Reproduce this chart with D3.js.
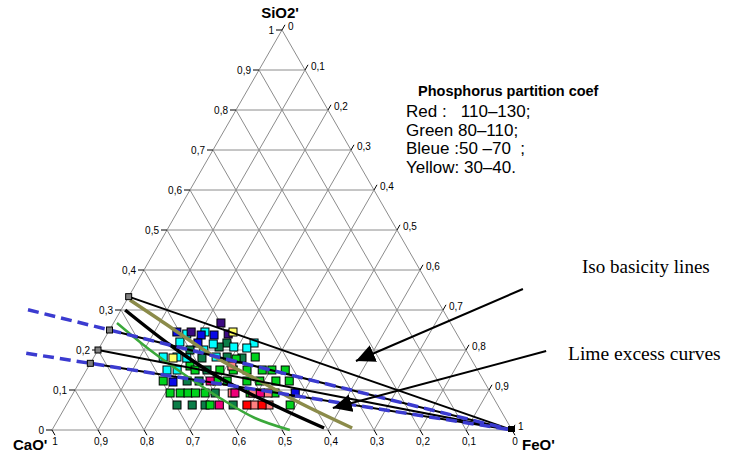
<!DOCTYPE html>
<html lang="en"><head>
<meta charset="utf-8">
<title>Ternary CaO'-SiO2'-FeO'</title>
<script src="https://cdn.jsdelivr.net/npm/d3@7"></script>
<style>
body { margin: 0; background: #fff; }
text { font-family: Arial, "Liberation Sans", sans-serif; }
</style>
</head>
<body>
<script>

var width = 737;
var height = 456;

// every composition is [CaO', SiO2'] ; FeO' = 1 - CaO' - SiO2'
var tickValues = d3.range(0, 11).map(function(i){ return i / 10; });

// iso basicity lines (CaO'/SiO2') drawn from the FeO' corner
var isoBasicity = [2, 3, 4, 5];
// dashed ones run past the CaO'-SiO2' side (t = 1 is the side)
var dashedBasicity = [3, 5];
var dashedReach = [1.2025, 1.152];

// lime excess curves
var oliveCurve = [[0.668,0.325],[0.628,0.275],[0.554,0.1825],[0.490,0.125],[0.427,0.0675],[0.345,0.005]];
var blackCurve = [[0.691,0.300],[0.637,0.2125],[0.570,0.130],[0.477,0.055],[0.406,0.005]];
var greenCurve = [[0.725,0.2675],[0.687,0.200],[0.642,0.1375],[0.595,0.080],[0.544,0.030],[0.483,0.000]];

// slag samples, by colour
var indigoPts = [[0.499,0.2675],[0.497,0.240],[0.575,0.245]];
var bluePts = [[0.606,0.245],[0.557,0.2375],[0.529,0.2375],[0.574,0.2175],[0.677,0.120],[0.425,0.0925]];
var cyanPts = [[0.587,0.240],[0.545,0.245],[0.612,0.220],[0.542,0.215],[0.452,0.2175],[0.501,0.2075],
  [0.474,0.205],[0.570,0.200],[0.667,0.1825],[0.637,0.1825],[0.617,0.180],[0.552,0.1825],[0.675,0.150],[0.653,0.150]];
var darkGreenPts = [[0.511,0.2175],[0.533,0.2075],[0.600,0.200],[0.584,0.180],[0.528,0.1825],[0.497,0.180],
  [0.588,0.150],[0.645,0.1225],[0.619,0.1225],[0.599,0.0925],[0.697,0.0625],[0.664,0.0625],[0.636,0.0625],[0.575,0.0625]];
var greenPts = [[0.467,0.1825],[0.511,0.1775],[0.620,0.160],[0.614,0.150],[0.560,0.150],[0.531,0.150],[0.501,0.150],
  [0.468,0.150],[0.447,0.150],[0.418,0.150],[0.697,0.1225],[0.580,0.1225],[0.558,0.1225],[0.515,0.1225],[0.487,0.1225],
  [0.452,0.1225],[0.423,0.1225],[0.697,0.0925],[0.675,0.0925],[0.658,0.0925],[0.642,0.0925],[0.621,0.0925],
  [0.523,0.0925],[0.469,0.0925],[0.625,0.0625],[0.451,0.0625]];
var magentaPts = [[0.595,0.1225],[0.556,0.0925],[0.501,0.0925],[0.605,0.0625]];
var salmonPts = [[0.529,0.160],[0.562,0.0925],[0.517,0.0925],[0.484,0.0925],[0.529,0.0625],[0.497,0.0625]];
var redPts = [[0.545,0.0625],[0.512,0.0625]];
var yellowPts = [[0.484,0.245],[0.647,0.180]];

var legendTitle = "Phosphorus partition coef";
var legendLines = ["Red :   110\u2013130;", "Green 80\u2013110;", "Bleue :50 \u201370  ;", "Yellow: 30\u201340."];

// annotation arrows: [start, tip]
var arrows = [
  {label: "Iso basicity lines", from: [-0.200, 0.3525], to: [0.253, 0.1725]},
  {label: "Lime excess curves", from: [-0.173, 0.1975], to: [0.362, 0.055]}
];

var fmt = d3.formatLocale({decimal: ",", thousands: " ", grouping: [3], currency: ["", ""]}).format("~g");

var xScale = d3.scaleLinear().domain([0, 1]).range([52, 512]);
var yScale = d3.scaleLinear().domain([0, 1]).range([430, 30]);

function px(c, s) {
  var f = 1 - c - s;
  return [xScale(f + s / 2), yScale(s)];
}

var svg = d3.select("body").append("svg")
  .attr("width", width)
  .attr("height", height);

svg.append("defs").append("marker")
  .attr("id", "head")
  .attr("viewBox", "0 0 19 18")
  .attr("refX", 19).attr("refY", 9)
  .attr("markerWidth", 19).attr("markerHeight", 18)
  .attr("markerUnits", "userSpaceOnUse")
  .attr("orient", "auto")
  .append("path").attr("d", "M0,0L19,9L0,18Z").attr("fill", "#000");

// grid
var grid = svg.append("g").attr("stroke", "#8c8c8c").attr("stroke-width", 1).attr("fill", "none");
tickValues.slice(1, 10).forEach(function(v){
  var segs = [
    [px(1 - v, v), px(0, v)],          // SiO2' constant
    [px(v, 0), px(v, 1 - v)],          // CaO' constant
    [px(1 - v, 0), px(0, 1 - v)]       // FeO' constant
  ];
  segs.forEach(function(s){
    grid.append("line")
      .attr("x1", s[0][0]).attr("y1", s[0][1])
      .attr("x2", s[1][0]).attr("y2", s[1][1]);
  });
});
grid.append("path")
  .attr("d", d3.line()([px(1, 0), px(0, 1), px(0, 0)]) + "Z");

// ticks and labels
var axes = svg.append("g").attr("font-size", 10).attr("fill", "#000");
tickValues.forEach(function(v){
  // SiO2' on the left side
  var p = px(1 - v, v);
  axes.append("line").attr("x1", p[0]).attr("y1", p[1]).attr("x2", p[0] - 6).attr("y2", p[1]).attr("stroke", "#000");
  axes.append("text").attr("x", p[0] - 8).attr("y", p[1]).attr("dy", "0.35em").attr("text-anchor", "end").text(fmt(v));
  // FeO' on the right side
  p = px(0, 1 - v);
  axes.append("line").attr("x1", p[0]).attr("y1", p[1]).attr("x2", p[0] + 3).attr("y2", p[1] - 5.2).attr("stroke", "#000");
  axes.append("text").attr("x", p[0] + 6).attr("y", p[1] - 4).attr("dy", "0.35em").text(fmt(v));
  // CaO' on the bottom
  p = px(v, 0);
  axes.append("line").attr("x1", p[0]).attr("y1", p[1]).attr("x2", p[0] + 3).attr("y2", p[1] + 5.2).attr("stroke", "#000");
  axes.append("text").attr("x", p[0] + 3).attr("y", p[1] + 15).attr("text-anchor", "middle").text(fmt(v));
});

var titles = svg.append("g").attr("font-size", 15).attr("font-weight", "bold");
var apexSi = px(0, 1), apexCa = px(1, 0), apexFe = px(0, 0);
titles.append("text").attr("x", apexSi[0] - 2).attr("y", apexSi[1] - 12).attr("text-anchor", "middle").text("SiO2'");
titles.append("text").attr("x", apexCa[0] - 39).attr("y", apexCa[1] + 20).text("CaO'");
titles.append("text").attr("x", apexFe[0] + 10).attr("y", apexFe[1] + 20).text("FeO'");

// samples
var groups = [
  {pts: darkGreenPts, color: "#0b7d48"},
  {pts: greenPts, color: "#00d21c"},
  {pts: cyanPts, color: "#00ffff"},
  {pts: bluePts, color: "#0a0ae6"},
  {pts: indigoPts, color: "#3c0a82"},
  {pts: salmonPts, color: "#ff8080"},
  {pts: magentaPts, color: "#ee0078"},
  {pts: redPts, color: "#ff0000"},
  {pts: yellowPts, color: "#ffff66"}
];
var sq = 8;
groups.forEach(function(g){
  svg.append("g").selectAll("rect")
    .data(g.pts).enter().append("rect")
    .attr("x", function(d){ return px(d[0], d[1])[0] - sq / 2; })
    .attr("y", function(d){ return px(d[0], d[1])[1] - sq / 2; })
    .attr("width", sq).attr("height", sq)
    .attr("fill", g.color)
    .attr("stroke", "#000").attr("stroke-width", 1);
});

// curves
var curve = d3.line()
  .x(function(d){ return px(d[0], d[1])[0]; })
  .y(function(d){ return px(d[0], d[1])[1]; })
  .curve(d3.curveCatmullRom);

svg.append("path").attr("d", curve(greenCurve)).attr("fill", "none").attr("stroke", "#3aa83a").attr("stroke-width", 2.5);
svg.append("path").attr("d", curve(oliveCurve)).attr("fill", "none").attr("stroke", "#8b8b4a").attr("stroke-width", 3.5);
svg.append("path").attr("d", curve(blackCurve)).attr("fill", "none").attr("stroke", "#000").attr("stroke-width", 3.5);

// iso basicity lines
function sidePoint(b, t) {
  return [t * b / (1 + b), t / (1 + b)];
}
isoBasicity.forEach(function(b){
  var p = px.apply(null, sidePoint(b, 1));
  svg.append("line")
    .attr("x1", p[0]).attr("y1", p[1]).attr("x2", apexFe[0]).attr("y2", apexFe[1])
    .attr("stroke", "#000").attr("stroke-width", 2);
});
dashedBasicity.forEach(function(b, i){
  var p = px.apply(null, sidePoint(b, dashedReach[i]));
  svg.append("line")
    .attr("x1", p[0]).attr("y1", p[1]).attr("x2", apexFe[0]).attr("y2", apexFe[1])
    .attr("stroke", "#3b3bd0").attr("stroke-width", 3.5)
    .attr("stroke-dasharray", "11,6");
});
isoBasicity.forEach(function(b){
  var p = px.apply(null, sidePoint(b, 1));
  svg.append("rect").attr("x", p[0] - 3).attr("y", p[1] - 3).attr("width", 6).attr("height", 6)
    .attr("fill", "#808080").attr("stroke", "#000").attr("stroke-width", 1);
});
svg.append("rect").attr("x", apexFe[0] - 4).attr("y", apexFe[1] - 4).attr("width", 7).attr("height", 6)
  .attr("fill", "#000");

// annotation arrows
arrows.forEach(function(a){
  var s = px(a.from[0], a.from[1]), e = px(a.to[0], a.to[1]);
  svg.append("line")
    .attr("x1", s[0]).attr("y1", s[1]).attr("x2", e[0]).attr("y2", e[1])
    .attr("stroke", "#000").attr("stroke-width", 2)
    .attr("marker-end", "url(#head)");
});
svg.append("text").attr("x", 582).attr("y", 273)
  .style("font-family", "'Liberation Serif', 'Times New Roman', serif").attr("font-size", 19)
  .text(arrows[0].label);
svg.append("text").attr("x", 568).attr("y", 360)
  .style("font-family", "'Liberation Serif', 'Times New Roman', serif").attr("font-size", 19.5)
  .text(arrows[1].label);

// legend
svg.append("text").attr("x", 418).attr("y", 96)
  .attr("font-size", 14.5).attr("font-weight", "bold").text(legendTitle);
var leg = svg.append("g").attr("transform", "translate(406,0)");
leg.selectAll("text").data(legendLines).enter().append("text")
  .attr("x", 0)
  .attr("y", function(d, i){ return 117 + i * 18.5; })
  .attr("font-size", 17)
  .style("white-space", "pre")
  .text(function(d){ return d; });

</script>
</body></html>
